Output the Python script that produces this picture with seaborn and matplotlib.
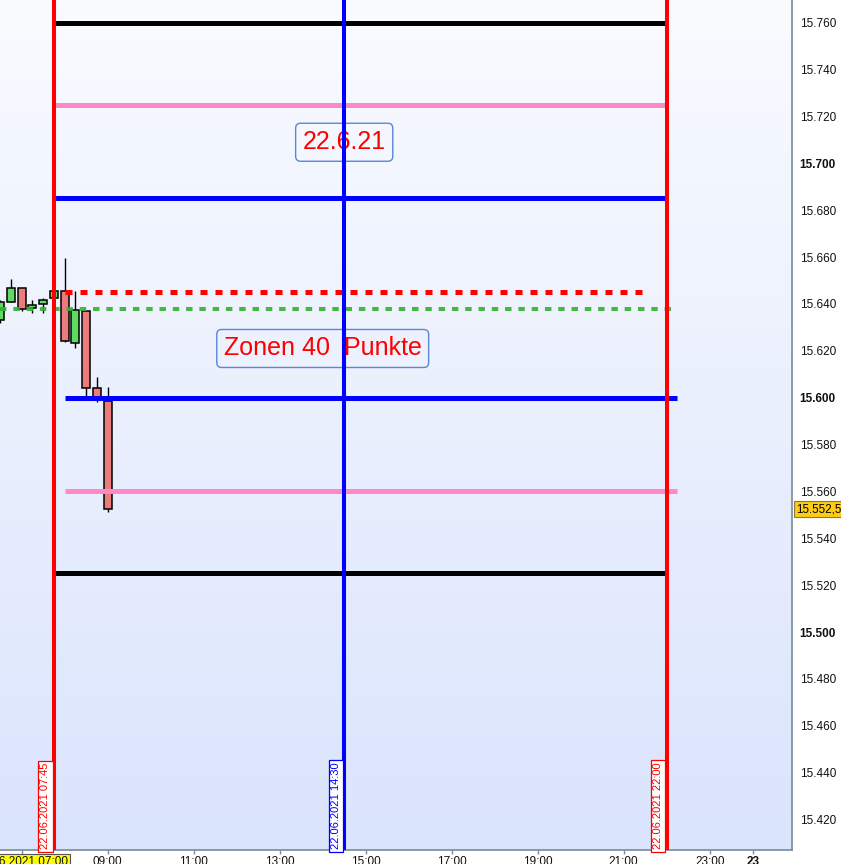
import matplotlib.pyplot as plt
import numpy as np
import seaborn as sns
from matplotlib.colors import LinearSegmentedColormap

# 15-minute candles (hours of 22.06.2021, prices in index points)
times = [6.5, 6.75, 7.0, 7.25, 7.5, 7.75, 8.0, 8.25, 8.5, 8.75, 9.0]
opens = [15633.0, 15641.0, 15646.7, 15638.4, 15639.8, 15642.4, 15645.4, 15623.2, 15637.0, 15604.0, 15598.5]
highs = [15641.5, 15650.6, 15646.7, 15641.7, 15642.5, 15645.8, 15659.5, 15645.5, 15637.0, 15608.8, 15604.6]
lows = [15632.0, 15641.0, 15637.0, 15636.3, 15636.3, 15642.0, 15623.9, 15621.3, 15600.8, 15598.3, 15551.4]
closes = [15641.0, 15646.7, 15638.0, 15639.4, 15641.6, 15645.4, 15624.0, 15637.3, 15604.0, 15599.5, 15552.5]
last_price_label = "15.552,5"
last_price = 15552.5

# zone lines: level, start hour, end hour, colour
zone_levels = [15760, 15725, 15685, 15600, 15560, 15525]
zone_starts = [7.75, 7.75, 7.75, 8.0, 8.0, 7.75]
zone_ends = [22.0, 22.0, 22.0, 22.25, 22.25, 22.0]
zone_colors = ["black", "#ff88c8", "#0000ff", "#0000ff", "#ff88c8", "black"]

red_dash_level, red_dash_span = 15645, (8.0, 21.5)
green_dot_level, green_dot_span = 15638, (6.495, 22.25)

v_hours = [7.75, 14.5, 22.0]
v_colors = ["#ff0000", "#0000ff", "#ff0000"]
v_labels = ["22.06.2021 07:45", "22.06.2021 14:30", "22.06.2021 22:00"]

x_ticks = [7, 9, 11, 13, 15, 17, 19, 21, 23, 24]
x_labels = ["22.06.2021 07:00", "09:00", "11:00", "13:00", "15:00",
            "17:00", "19:00", "21:00", "23:00", "23"]
y_ticks = list(range(15420, 15761, 20))

sns.set_theme(style="white")
plt.rcParams["font.family"] = ["Liberation Sans", "DejaVu Sans"]

fig = plt.figure(figsize=(8.41, 8.64), dpi=100)
fig.patch.set_facecolor("white")
ax = fig.add_axes([0, 14 / 864, 792 / 841, 850 / 864])

x_min, x_max = 6.495, 24.914
y_min, y_max = 15407.0, 15769.7

# background gradient
grad = np.linspace(0, 1, 256).reshape(-1, 1)
cmap = LinearSegmentedColormap.from_list("bg", ["#dae4fc", "#f9fbff"])
ax.imshow(grad, extent=[x_min, x_max, y_min, y_max], origin="lower",
          aspect="auto", cmap=cmap, zorder=0)

# candles
width = 0.25 * 0.74
for t, o, h, l, c in zip(times, opens, highs, lows, closes):
    body = "#5fdc5f" if c >= o else "#ea7c7c"
    ax.vlines(t, l, h, color="black", lw=1, zorder=2)
    ax.bar(t, max(abs(c - o), 0.6), width, bottom=min(o, c), color=body,
           edgecolor="black", lw=1.1, zorder=3)

# zone lines
for lvl, s, e, col in zip(zone_levels, zone_starts, zone_ends, zone_colors):
    ax.hlines(lvl, s, e, color=col, lw=3.6, zorder=4)
ax.hlines(red_dash_level, *red_dash_span, color="#ff0000", lw=3.6,
          linestyles=[(0, (1.4, 1.6))], zorder=4)
ax.hlines(green_dot_level, *green_dot_span, color="#35b035", lw=2.9,
          linestyles=[(0, (1.6, 1.7))], alpha=0.9, zorder=4)

# text boxes
box_style = dict(boxstyle="round,pad=0.28,rounding_size=0.2", fc="none",
                 ec="#5b86d6", lw=1)
ax.text(14.5, 15709.0, "22.6.21", color="#ff0000", fontsize=18,
        ha="center", va="center", bbox=box_style, zorder=3.5)
ax.text(14.0, 15621.0, "Zonen 40  Punkte", color="#ff0000", fontsize=18,
        ha="center", va="center", bbox=box_style, zorder=3.5)

# vertical lines with date labels
for hr, col, lab in zip(v_hours, v_colors, v_labels):
    ax.axvline(hr, color=col, lw=2.9, zorder=5)
    ax.annotate(lab, xy=(hr, 0), xycoords=("data", "axes fraction"),
                xytext=(-2.5, 0.5), textcoords="offset points", rotation=90,
                ha="right", va="bottom", color=col, fontsize=8,
                bbox=dict(boxstyle="square,pad=0.2", fc="white", ec=col, lw=0.9),
                zorder=6)

# last price marker on the right axis
ax.annotate(last_price_label, xy=(1, last_price),
            xycoords=("axes fraction", "data"),
            xytext=(3, 0), textcoords="offset points", ha="left", va="center",
            fontsize=8.4, color="black", annotation_clip=False,
            bbox=dict(boxstyle="square,pad=0.15", fc="#ffcc10", ec="#8a7a40", lw=0.8))

ax.set_xlim(x_min, x_max)
ax.set_ylim(y_min, y_max)

ax.yaxis.tick_right()
ax.set_yticks(y_ticks)
ax.set_yticklabels([f"{v // 1000}.{v % 1000:03d}" for v in y_ticks])
for v, lab in zip(y_ticks, ax.get_yticklabels()):
    if v % 100 == 0:
        lab.set_fontweight("bold")
        lab.set_fontsize(9.4)

ax.set_xticks(x_ticks)
ax.set_xticklabels(x_labels)
xl = ax.get_xticklabels()
xl[0].set_bbox(dict(boxstyle="square,pad=0.18", fc="#ffff00", ec="#555555", lw=0.8))
xl[-1].set_fontweight("bold")
xl[-1].set_fontsize(9)

ax.tick_params(axis="y", right=True, length=4, width=1, color="#7a8a9a",
               pad=1.5, labelsize=8.5, labelcolor="#111111")
ax.tick_params(axis="x", bottom=True, length=3, width=1, color="#7a8a9a",
               pad=1.5, labelsize=8.5, labelcolor="#111111")

sns.despine(ax=ax, left=True, top=True, right=False, bottom=False)
for side in ["right", "bottom"]:
    ax.spines[side].set_color("#7a8a9a")
    ax.spines[side].set_linewidth(1.2)

fig.savefig("out.png", dpi=100)
